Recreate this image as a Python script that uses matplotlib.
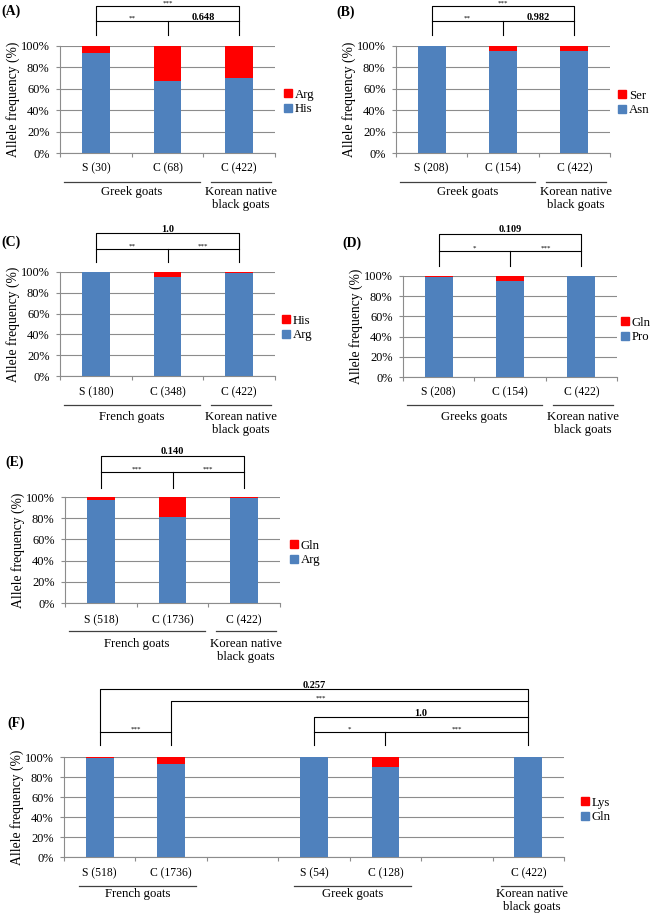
import matplotlib
matplotlib.use('Agg')
import matplotlib.pyplot as plt
from matplotlib.patches import Patch

plt.rcParams['font.family'] = ['Liberation Serif', 'DejaVu Serif']

# ---- data (allele frequency, %) ----
a_labels = ['S (30)', 'C (68)', 'C (422)']
a_his = [93.3, 67.6, 70.1]
a_arg = [6.7, 32.4, 29.9]
a_groups = ['Greek goats', 'Korean native\nblack goats']

b_labels = ['S (208)', 'C (154)', 'C (422)']
b_asn = [100.0, 95.5, 95.3]
b_ser = [0.0, 4.5, 4.7]
b_groups = ['Greek goats', 'Korean native\nblack goats']

c_labels = ['S (180)', 'C (348)', 'C (422)']
c_arg = [100.0, 94.8, 99.5]
c_his = [0.0, 5.2, 0.5]
c_groups = ['French goats', 'Korean native\nblack goats']

d_labels = ['S (208)', 'C (154)', 'C (422)']
d_pro = [99.0, 94.8, 100.0]
d_gln = [1.0, 5.2, 0.0]
d_groups = ['Greeks goats', 'Korean native\nblack goats']

e_labels = ['S (518)', 'C (1736)', 'C (422)']
e_arg = [97.5, 81.0, 99.0]
e_gln = [2.5, 19.0, 1.0]
e_groups = ['French goats', 'Korean native\nblack goats']

f_labels = ['S (518)', 'C (1736)', 'S (54)', 'C (128)', 'C (422)']
f_gln = [99.2, 92.7, 100.0, 90.0, 100.0]
f_lys = [0.8, 7.3, 0.0, 10.0, 0.0]
f_groups = ['French goats', 'Greek goats', 'Korean native\nblack goats']

BLUE = '#4f81bd'
RED = '#ff0000'
GRAY = '#8c8c8c'
W, H = 658, 916

fig = plt.figure(figsize=(W / 100, H / 100), dpi=100)


def ftext(x, y, s, **kw):
    fig.text(x / W, 1 - y / H, s, **kw)


def panel(box, tag, labels, pos, ncat, major, minor, names, groups, spans,
          tick_y, line_y, group_y, leg_x, leg_y):
    l, t, r, b = box
    ax = fig.add_axes([l / W, 1 - b / H, (r - l) / W, (b - t) / H])
    ax.bar(pos, major, width=0.39, color=BLUE, zorder=3)
    ax.bar(pos, minor, bottom=major, width=0.39, color=RED, zorder=3)
    ax.set_xlim(-0.5, ncat - 0.5)
    ax.set_ylim(0, 100)
    ax.set_yticks(range(0, 101, 20))
    ax.set_yticklabels(['%d%%' % v for v in range(0, 101, 20)], fontsize=8.9)
    ax.set_xticks(pos)
    ax.set_xticklabels(labels, fontsize=8.4)
    ax.set_xticks([i - 0.5 for i in range(ncat + 1)], minor=True)
    ax.tick_params(axis='x', which='major', length=0, pad=(tick_y - b - 6) * 0.72)
    ax.tick_params(axis='x', which='minor', length=3, width=0.8, color=GRAY)
    ax.tick_params(axis='y', length=3, width=0.8, color=GRAY, pad=4.5)
    for s in ['top', 'right']:
        ax.spines[s].set_visible(False)
    for s in ['left', 'bottom']:
        ax.spines[s].set_color(GRAY)
        ax.spines[s].set_linewidth(0.8)
    ax.yaxis.grid(True, color=GRAY, linewidth=0.8, zorder=0)
    ax.set_axisbelow(True)

    # groups under the axis
    tr = ax.get_xaxis_transform()
    gy = (b - line_y) / (b - t)
    ty = (b - (group_y - 7)) / (b - t)
    for name, (x0, x1) in zip(groups, spans):
        ax.plot([x0, x1], [gy, gy], color='#404040', lw=0.9, transform=tr, clip_on=False)
        ax.text((x0 + x1) / 2, ty, name, transform=tr, ha='center', va='top',
                fontsize=9.2, linespacing=1.15)

    # axis title + panel tag
    ftext(l - 47, (t + b) / 2, 'Allele frequency (%)', rotation=90,
          ha='center', va='center', fontsize=9.8)
    ftext(tag[1], tag[2], tag[0], fontweight='bold', fontsize=10,
          ha='left', va='center')

    # legend (red on top)
    handles = [Patch(color=RED, label=names[1]), Patch(color=BLUE, label=names[0])]
    ax.legend(handles=handles, loc='center left', frameon=False, fontsize=9.2,
              bbox_to_anchor=((leg_x - l) / (r - l), (b - leg_y) / (b - t)),
              borderpad=0, borderaxespad=0, handlelength=0.6, handleheight=0.6,
              handletextpad=0.25, labelspacing=0.2)
    return ax


def brackets(ax, box, lines, texts):
    l, t, r, b = box
    tr = ax.get_xaxis_transform()
    for xs, ys in lines:
        ax.plot(xs, [(b - y) / (b - t) for y in ys], color='black', lw=0.8,
                transform=tr, clip_on=False)
    for s, x, y, bold in texts:
        ax.text(x, (b - y) / (b - t), s, transform=tr, ha='center', va='baseline',
                fontsize=7.5 if bold else 5, fontweight='bold' if bold else 'normal')


def three(ax, box, top, mid, end, top_txt, left_txt, right_txt):
    lines = [([0, 0, 2, 2], [end, top, top, end]),
             ([0, 2], [mid, mid]),
             ([1, 1], [mid, end])]
    texts = [(top_txt[0], 1, top - (1.5 if top_txt[1] else 1), top_txt[1]),
             (left_txt[0], 0.5, mid - (1.5 if left_txt[1] else 1), left_txt[1]),
             (right_txt[0], 1.5, mid - (1.5 if right_txt[1] else 1), right_txt[1])]
    brackets(ax, box, lines, texts)


spans3 = [(-0.45, 1.45), (1.6, 2.45)]

box = (60, 46, 275, 153)
ax = panel(box, ('(A)', 1, 11), a_labels, [0, 1, 2], 3, a_his, a_arg, ['His', 'Arg'],
           a_groups, spans3, 168, 182, 193, 284, 102)
three(ax, box, 6, 21, 35, ('***', False), ('**', False), ('0.648', True))

box = (396, 46, 610, 153)
ax = panel(box, ('(B)', 336, 12), b_labels, [0, 1, 2], 3, b_asn, b_ser, ['Asn', 'Ser'],
           b_groups, spans3, 168, 182, 193, 618, 103)
three(ax, box, 6, 21, 35, ('***', False), ('**', False), ('0.982', True))

box = (60, 272, 275, 376)
ax = panel(box, ('(C)', 1, 242), c_labels, [0, 1, 2], 3, c_arg, c_his, ['Arg', 'His'],
           c_groups, spans3, 392, 405, 418, 282, 328)
three(ax, box, 233, 249, 262, ('1.0', True), ('**', False), ('***', False))

box = (403, 276, 617, 377)
ax = panel(box, ('(D)', 342, 243), d_labels, [0, 1, 2], 3, d_pro, d_gln, ['Pro', 'Gln'],
           d_groups, spans3, 392, 405, 418, 621, 330)
three(ax, box, 234, 251, 266, ('0.109', True), ('*', False), ('***', False))

box = (65, 497, 280, 603)
ax = panel(box, ('(E)', 5, 462), e_labels, [0, 1, 2], 3, e_arg, e_gln, ['Arg', 'Gln'],
           e_groups, spans3, 620, 631, 645, 290, 553)
three(ax, box, 456, 472, 488, ('0.140', True), ('***', False), ('***', False))

box = (64, 757, 564, 857)
ax = panel(box, ('(F)', 7, 723), f_labels, [0, 1, 3, 4, 6], 7, f_gln, f_lys, ['Gln', 'Lys'],
           f_groups, [(-0.29, 1.35), (2.72, 4.36), (5.62, 6.47)], 873, 886, 895, 581, 810)
brackets(ax, box,
         [([0, 0, 6, 6], [745, 689, 689, 745]),
          ([1, 1, 6], [745, 701, 701]),
          ([3, 3, 6], [745, 717, 717]),
          ([0, 1], [732, 732]),
          ([3, 6], [732, 732]),
          ([4, 4], [732, 745])],
         [('0.257', 3.0, 687.5, True),
          ('***', 3.1, 700, False),
          ('1.0', 4.5, 715.5, True),
          ('***', 0.5, 731, False),
          ('*', 3.5, 731, False),
          ('***', 5.0, 731, False)])

fig.savefig('out.png', dpi=100)
